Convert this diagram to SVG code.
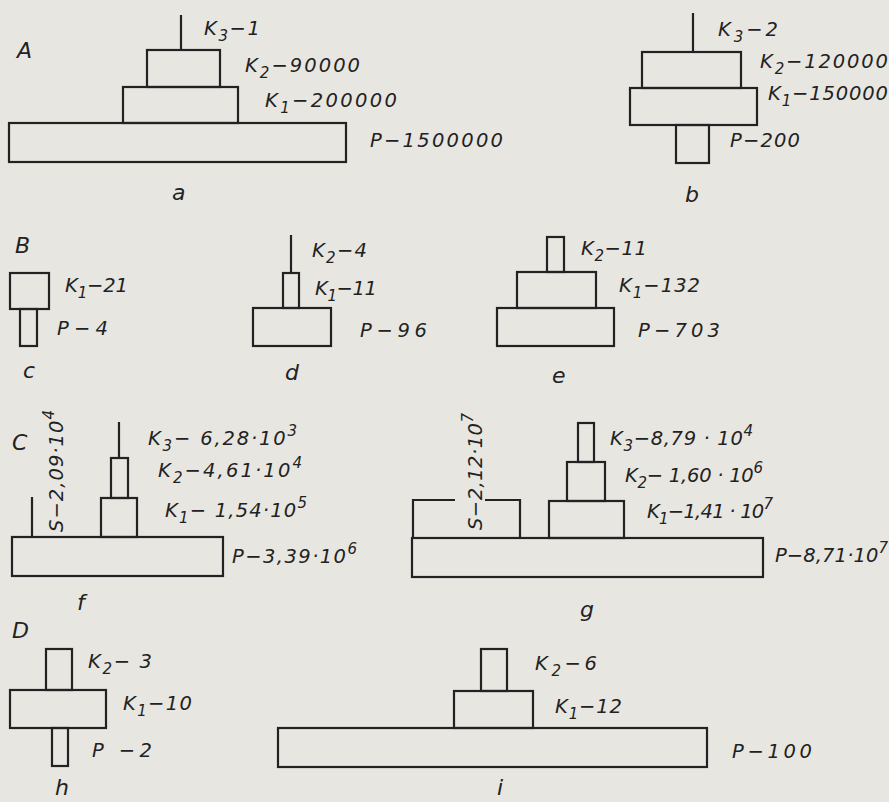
<svg xmlns="http://www.w3.org/2000/svg" width="889" height="802" viewBox="0 0 889 802">
<style>
.ln{fill:none;stroke:#222;stroke-width:2.2}
.t{font-family:"DejaVu Sans","Liberation Sans",sans-serif;font-style:italic;font-size:19.5px;fill:#222}
.big{font-size:22px}
.s{font-size:15px}
</style>
<rect width="889" height="802" fill="#e8e6e1"/>
<g id="pyramid-a">
<text class="t big" x="17" y="58">A</text>
<line class="ln" x1="181" y1="15" x2="181" y2="50"/>
<rect class="ln" x="147" y="50" width="73" height="37"/>
<rect class="ln" x="123" y="87" width="115" height="36"/>
<rect class="ln" x="9" y="123" width="337" height="39"/>
<text class="t" x="204" y="35" textLength="56" lengthAdjust="spacing">K<tspan class="s" dy="6">3</tspan><tspan dy="-6">−1</tspan></text>
<text class="t" x="245" y="72" textLength="115" lengthAdjust="spacing">K<tspan class="s" dy="6">2</tspan><tspan dy="-6">−90000</tspan></text>
<text class="t" x="265" y="107" textLength="132" lengthAdjust="spacing">K<tspan class="s" dy="6">1</tspan><tspan dy="-6">−200000</tspan></text>
<text class="t" x="370" y="147" textLength="133" lengthAdjust="spacing">P−1500000</text>
<text class="t big" x="172" y="200">a</text>
</g>
<g id="pyramid-b">
<line class="ln" x1="693" y1="13" x2="693" y2="52"/>
<rect class="ln" x="642" y="52" width="99" height="36"/>
<rect class="ln" x="630" y="88" width="127" height="37"/>
<rect class="ln" x="676" y="125" width="33" height="38"/>
<text class="t" x="718" y="36" textLength="60" lengthAdjust="spacing">K<tspan class="s" dy="6">3</tspan><tspan dy="-6">−2</tspan></text>
<text class="t" x="760" y="68" textLength="128" lengthAdjust="spacing">K<tspan class="s" dy="6">2</tspan><tspan dy="-6">−120000</tspan></text>
<text class="t" x="768" y="100" textLength="120" lengthAdjust="spacing">K<tspan class="s" dy="6">1</tspan><tspan dy="-6">−150000</tspan></text>
<text class="t" x="730" y="147" textLength="70" lengthAdjust="spacing">P−200</text>
<text class="t big" x="685" y="202">b</text>
</g>
<g id="pyramid-c">
<text class="t big" x="15" y="253">B</text>
<rect class="ln" x="10" y="273" width="39" height="36"/>
<rect class="ln" x="20" y="309" width="17" height="37"/>
<text class="t" x="65" y="292" textLength="63" lengthAdjust="spacing">K<tspan class="s" dy="6">1</tspan><tspan dy="-6">−21</tspan></text>
<text class="t" x="57" y="335" textLength="51" lengthAdjust="spacing">P−4</text>
<text class="t big" x="23" y="378">c</text>
</g>
<g id="pyramid-d">
<line class="ln" x1="291" y1="235" x2="291" y2="273"/>
<rect class="ln" x="283" y="273" width="16" height="35"/>
<rect class="ln" x="253" y="308" width="78" height="38"/>
<text class="t" x="312" y="257" textLength="55" lengthAdjust="spacing">K<tspan class="s" dy="6">2</tspan><tspan dy="-6">−4</tspan></text>
<text class="t" x="315" y="295" textLength="62" lengthAdjust="spacing">K<tspan class="s" dy="6">1</tspan><tspan dy="-6">−11</tspan></text>
<text class="t" x="360" y="337" textLength="67" lengthAdjust="spacing">P−96</text>
<text class="t big" x="285" y="380">d</text>
</g>
<g id="pyramid-e">
<rect class="ln" x="547" y="237" width="17" height="35"/>
<rect class="ln" x="517" y="272" width="79" height="36"/>
<rect class="ln" x="497" y="308" width="117" height="38"/>
<text class="t" x="581" y="255" textLength="66" lengthAdjust="spacing">K<tspan class="s" dy="6">2</tspan><tspan dy="-6">−11</tspan></text>
<text class="t" x="619" y="292" textLength="81" lengthAdjust="spacing">K<tspan class="s" dy="6">1</tspan><tspan dy="-6">−132</tspan></text>
<text class="t" x="638" y="337" textLength="82" lengthAdjust="spacing">P−703</text>
<text class="t big" x="552" y="383">e</text>
</g>
<g id="pyramid-f">
<text class="t big" x="12" y="450">C</text>
<line class="ln" x1="32" y1="497" x2="32" y2="537"/>
<text class="t" transform="translate(63,532) rotate(-90)" textLength="122" lengthAdjust="spacing">S−2,09·10<tspan class="s" dy="-9">4</tspan></text>
<line class="ln" x1="119" y1="422" x2="119" y2="458"/>
<rect class="ln" x="111" y="458" width="17" height="40"/>
<rect class="ln" x="101" y="498" width="36" height="39"/>
<rect class="ln" x="12" y="537" width="211" height="39"/>
<text class="t" x="148" y="445" textLength="149" lengthAdjust="spacing">K<tspan class="s" dy="6">3</tspan><tspan dy="-6">− 6,28·10</tspan><tspan class="s" dy="-9">3</tspan></text>
<text class="t" x="158" y="477" textLength="144" lengthAdjust="spacing">K<tspan class="s" dy="6">2</tspan><tspan dy="-6">−4,61·10</tspan><tspan class="s" dy="-9">4</tspan></text>
<text class="t" x="165" y="517" textLength="142" lengthAdjust="spacing">K<tspan class="s" dy="6">1</tspan><tspan dy="-6">− 1,54·10</tspan><tspan class="s" dy="-9">5</tspan></text>
<text class="t" x="232" y="563" textLength="125" lengthAdjust="spacing">P−3,39·10<tspan class="s" dy="-9">6</tspan></text>
<text class="t big" x="77" y="610">f</text>
</g>
<g id="pyramid-g">
<path class="ln" d="M413,538 V500 H455 M485,500 H520 V538"/>
<text class="t" transform="translate(482,530) rotate(-90)" textLength="117" lengthAdjust="spacing">S−2,12·10<tspan class="s" dy="-9">7</tspan></text>
<rect class="ln" x="578" y="423" width="16" height="39"/>
<rect class="ln" x="567" y="462" width="38" height="39"/>
<rect class="ln" x="549" y="501" width="75" height="37"/>
<rect class="ln" x="412" y="538" width="351" height="39"/>
<text class="t" x="610" y="445" textLength="143" lengthAdjust="spacing">K<tspan class="s" dy="6">3</tspan><tspan dy="-6">−8,79 · 10</tspan><tspan class="s" dy="-9">4</tspan></text>
<text class="t" x="625" y="482" textLength="138" lengthAdjust="spacing">K<tspan class="s" dy="6">2</tspan><tspan dy="-6">− 1,60 · 10</tspan><tspan class="s" dy="-9">6</tspan></text>
<text class="t" x="647" y="518" textLength="126" lengthAdjust="spacing">K<tspan class="s" dy="6">1</tspan><tspan dy="-6">−1,41 · 10</tspan><tspan class="s" dy="-9">7</tspan></text>
<text class="t" x="775" y="562" textLength="113" lengthAdjust="spacing">P−8,71·10<tspan class="s" dy="-9">7</tspan></text>
<text class="t big" x="580" y="617">g</text>
</g>
<g id="pyramid-h">
<text class="t big" x="12" y="638">D</text>
<rect class="ln" x="46" y="649" width="26" height="41"/>
<rect class="ln" x="10" y="690" width="96" height="38"/>
<rect class="ln" x="52" y="728" width="16" height="38"/>
<text class="t" x="88" y="668" textLength="64" lengthAdjust="spacing">K<tspan class="s" dy="6">2</tspan><tspan dy="-6">− 3</tspan></text>
<text class="t" x="123" y="710" textLength="69" lengthAdjust="spacing">K<tspan class="s" dy="6">1</tspan><tspan dy="-6">−10</tspan></text>
<text class="t" x="92" y="757" textLength="60" lengthAdjust="spacing">P −2</text>
<text class="t big" x="55" y="795">h</text>
</g>
<g id="pyramid-i">
<rect class="ln" x="481" y="649" width="26" height="42"/>
<rect class="ln" x="454" y="691" width="79" height="37"/>
<rect class="ln" x="278" y="728" width="429" height="39"/>
<text class="t" x="535" y="670" textLength="62" lengthAdjust="spacing">K<tspan class="s" dy="6">2</tspan><tspan dy="-6">−6</tspan></text>
<text class="t" x="555" y="713" textLength="67" lengthAdjust="spacing">K<tspan class="s" dy="6">1</tspan><tspan dy="-6">−12</tspan></text>
<text class="t" x="732" y="758" textLength="80" lengthAdjust="spacing">P−100</text>
<text class="t big" x="497" y="795">i</text>
</g>
</svg>
